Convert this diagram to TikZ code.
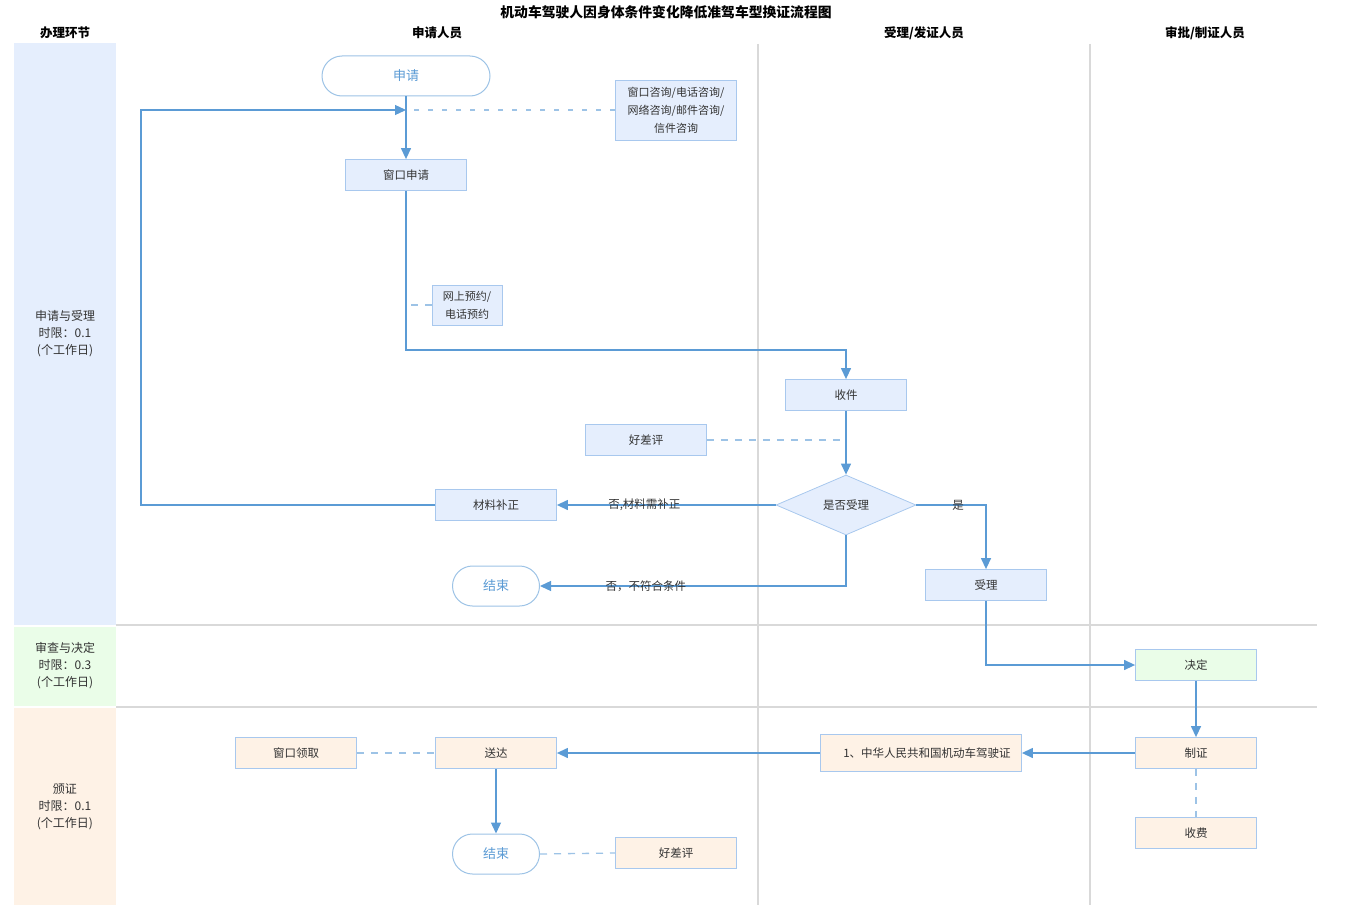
\documentclass[tikz,border=0pt]{standalone}
\usepackage{fontspec}
\setmainfont{Noto Sans CJK SC}
\usetikzlibrary{arrows.meta,shapes.geometric}
\definecolor{lineblue}{HTML}{5B9BD5}
\definecolor{bordblue}{HTML}{A8C8EE}
\definecolor{fillblue}{HTML}{E5EEFD}
\definecolor{fillgreen}{HTML}{EAFDE8}
\definecolor{fillorange}{HTML}{FEF2E6}
\definecolor{dashblue}{HTML}{9DC3E6}
\definecolor{lanegray}{HTML}{D9D9D9}
\definecolor{txt}{HTML}{333333}
\begin{document}
\begin{tikzpicture}[x=1pt,y=-1pt,
 box/.style={draw=bordblue, line width=0.8pt, minimum width=121pt, minimum height=31pt, inner sep=2pt, font=\fontsize{11.5}{14}\selectfont, text=txt, align=center},
 bbox/.style={box, fill=fillblue},
 gbox/.style={box, fill=fillgreen},
 obox/.style={box, fill=fillorange},
 term/.style={draw=dashblue, line width=1pt, fill=white, rounded corners=20pt, minimum height=40pt, text=lineblue, font=\fontsize{13}{15}\selectfont},
 flow/.style={draw=lineblue, line width=1.3pt, -{Triangle[length=11pt,width=10pt]}},
 dashlink/.style={draw=dashblue, line width=1.3pt, dash pattern=on 7pt off 7pt},
 lbl/.style={font=\fontsize{11.5}{14}\selectfont, text=txt},
 hdr/.style={font=\bfseries\fontsize{12.5}{14}\selectfont, text=black},
 side/.style={font=\fontsize{12}{17}\selectfont, text=txt, align=center},
 lane/.style={draw=lanegray, line width=1.2pt},
 hlane/.style={draw=lanegray, line width=2pt},
]
\useasboundingbox (0,0) rectangle (1350,907);
% bands
\fill[fillblue] (14,43) rectangle (116,625);
\fill[fillgreen] (14,627) rectangle (116,706);
\fill[fillorange] (14,708) rectangle (116,905);
% lane lines
\draw[lane] (758,44) -- (758,905);
\draw[lane] (1090,44) -- (1090,905);
\draw[hlane] (116,625) -- (1317,625);
\draw[hlane] (116,707) -- (1317,707);
% title and headers
\node[hdr, font=\bfseries\fontsize{13.8}{15}\selectfont] (title) at (666,12) {机动车驾驶人因身体条件变化降低准驾车型换证流程图};
\node[hdr] (h0) at (65,33) {办理环节};
\node[hdr] (h1) at (437,33) {申请人员};
\node[hdr] (h2) at (924,33) {受理/发证人员};
\node[hdr] (h3) at (1205,33) {审批/制证人员};
% side labels
\node[side] (s1) at (65,334) {申请与受理\\时限：0.1\\(个工作日)};
\node[side] (s2) at (65,666) {审查与决定\\时限：0.3\\(个工作日)};
\node[side] (s3) at (65,807) {颁证\\时限：0.1\\(个工作日)};
% nodes
\node[term, minimum width=168pt] (sq) at (406,76) {申请};
\node[bbox, minimum width=121pt, minimum height=60pt, font=\fontsize{11}{18}\selectfont] (cons) at (676,110) {窗口咨询/电话咨询/\\网络咨询/邮件咨询/\\信件咨询};
\node[bbox] (ck) at (406,175) {窗口申请};
\node[bbox, minimum width=70pt, minimum height=40pt, font=\fontsize{11}{18}\selectfont] (wy) at (467,305) {网上预约/\\电话预约};
\node[bbox] (sj) at (846,395) {收件};
\node[bbox] (hp1) at (646,440) {好差评};
\node[draw=bordblue, line width=0.8pt, fill=fillblue, diamond, aspect=2.33, minimum width=140pt, minimum height=60pt, inner sep=0pt, font=\fontsize{11.5}{14}\selectfont, text=txt] (dq) at (846,505) {是否受理};
\node[bbox] (bz) at (496,505) {材料补正};
\node[term, minimum width=87pt] (end1) at (496,586) {结束};
\node[bbox] (sl) at (986,585) {受理};
\node[gbox] (jd) at (1196,665) {决定};
\node[obox] (zz) at (1196,753) {制证};
\node[obox] (sf) at (1196,833) {收费};
\node[obox, minimum width=201pt, minimum height=37pt] (zh) at (921,753) {\hspace*{12pt}1、中华人民共和国机动车驾驶证};
\node[obox] (sd) at (496,753) {送达};
\node[obox] (lq) at (296,753) {窗口领取};
\node[term, minimum width=87pt] (end2) at (496,854) {结束};
\node[obox] (hp2) at (676,853) {好差评};
% connectors
\coordinate (j1) at (406,110);
\draw[flow] (sq.south) -- (ck.north);
\draw[dashlink, dash pattern=on 5pt off 9pt] (cons.west) -- (j1);
\draw[flow] (bz.west) -- (141,505) -- (141,110) -- (j1);
\draw[flow] (ck.south) -- ++(0,159) -| (sj.north);
\draw[dashlink] (wy.west) -- (wy.west -| ck.south);
\draw[flow] (sj.south) -- (dq.north);
\draw[dashlink] (hp1.east) -- (hp1.east -| sj.south);
\draw[flow] (dq.west) -- (bz.east) node[lbl, pos=0.6] (l1) {否,材料需补正};
\draw[flow] (dq.south) |- (end1.east) node[lbl, pos=0.827] (l2) {否，不符合条件};
\draw[flow] (dq.east) -| (sl.north) node[lbl, pos=0.3] (l3) {是};
\draw[flow] (sl.south) |- (jd.west);
\draw[flow] (jd.south) -- (zz.north);
\draw[flow] (zz.west) -- (zh.east);
\draw[flow] (zh.west) -- (sd.east);
\draw[flow] (sd.south) -- (end2.north);
\draw[dashlink] (lq.east) -- (sd.west);
\draw[dashlink] (zz.south) -- (sf.north);
\draw[dashlink] (end2.east) -- (hp2.west);
\end{tikzpicture}
\end{document}
